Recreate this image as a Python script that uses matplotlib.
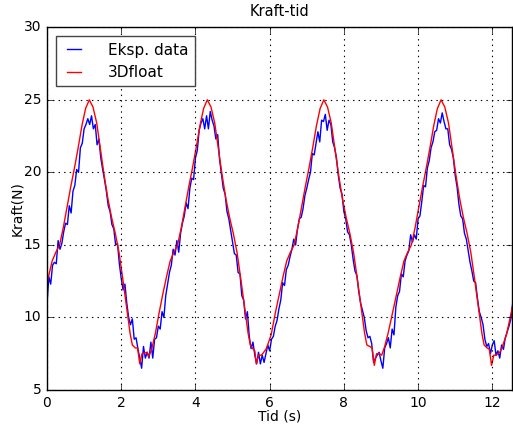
import numpy as np
import matplotlib
matplotlib.use("Agg")
import matplotlib.pyplot as plt

plt.style.use('classic')
plt.rcParams['font.family'] = ['DejaVu Sans']

title = "Kraft-tid"
xlabel = "Tid (s)"
ylabel = "Kraft(N)"
legend_labels = ["Eksp. data", "3Dfloat"]

# Experimental data, sampled every 0.05 s from t = 0
blue_step = 0.05
blue_v = [
    10.9, 12.8, 12.3, 13.6, 13.8, 13.7, 15.3, 14.7, 15.1, 15.9, 16.5, 16.4, 17.7, 17.2, 18.7, 19.1, 20.2, 20.0, 21.7, 22.0,
    23.0, 23.3, 23.7, 23.3, 23.9, 23.0, 23.3, 21.9, 22.3, 21.0, 20.2, 19.5, 18.7, 17.7, 17.3, 16.4, 16.1, 15.0, 15.1, 13.7,
    12.7, 11.9, 12.3, 11.0, 10.0, 9.5, 9.9, 8.5, 8.6, 7.85, 7.2, 6.5, 8.0, 7.2, 7.6, 7.2, 8.3, 7.2, 8.5, 8.6,
    9.4, 9.2, 10.4, 10.0, 11.5, 12.3, 13.1, 13.6, 14.7, 14.3, 15.3, 14.5, 15.8, 16.5, 17.0, 17.9, 17.5, 18.9, 19.6, 19.5,
    21.0, 21.5, 22.9, 23.4, 23.7, 23.0, 23.9, 23.0, 24.2, 23.6, 23.2, 22.3, 22.6, 20.9, 19.9, 18.9, 18.5, 17.3, 16.8, 16.0,
    15.2, 14.4, 14.3, 13.1, 13.0, 11.5, 11.2, 9.9, 10.4, 8.7, 7.85, 8.3, 7.4, 6.8, 7.6, 6.8, 7.4, 6.9, 7.5, 8.1,
    7.7, 8.5, 8.7, 9.4, 9.8, 10.6, 11.2, 12.4, 12.2, 13.3, 13.6, 14.2, 14.7, 15.4, 15.0, 16.1, 16.8, 16.9, 17.5, 18.4,
    18.9, 19.5, 20.0, 21.3, 21.2, 22.0, 22.8, 22.1, 23.6, 23.5, 24.0, 22.9, 23.6, 23.3, 22.1, 21.7, 21.0, 19.8, 18.9, 18.5,
    17.3, 16.8, 15.9, 15.7, 15.0, 14.0, 13.2, 12.9, 11.8, 11.0, 10.5, 10.0, 9.1, 8.6, 8.7, 8.2, 6.9, 7.2, 7.4, 7.6,
    7.0, 6.5, 7.9, 8.2, 8.6, 7.9, 9.2, 8.8, 10.7, 11.5, 11.8, 13.0, 12.8, 13.9, 14.3, 14.6, 15.7, 15.2, 15.7, 15.4,
    16.8, 17.0, 18.0, 19.1, 19.0, 20.3, 20.8, 21.7, 22.1, 22.8, 22.9, 23.7, 23.4, 24.1, 23.5, 23.0, 23.0, 21.9, 21.6, 21.0,
    19.8, 19.0, 17.8, 17.0, 16.8, 15.8, 15.4, 14.6, 13.8, 13.2, 12.5, 12.4, 11.3, 10.4, 10.0, 9.5, 8.5, 8.0, 8.2, 7.5,
    8.1, 8.4, 7.4, 7.7, 7.2, 8.1, 7.8, 8.6, 9.0, 9.4, 9.9, 11.0,
]

# 3Dfloat model curve (time, force)
red_t = [
    0.00, 0.04, 0.14, 0.24, 0.34, 0.44, 0.54, 0.64, 0.74, 0.84, 0.94, 1.04, 1.14, 1.24, 1.34, 1.44, 1.54, 1.64, 1.74, 1.84,
    1.94, 2.04, 2.14, 2.24, 2.30,
    2.38, 2.44, 2.50, 2.56, 2.70, 2.74, 2.82, 2.92,
    3.02, 3.12, 3.22, 3.32, 3.42, 3.52, 3.62, 3.72, 3.82, 3.92, 4.02, 4.12, 4.22, 4.32, 4.42, 4.52, 4.62, 4.72, 4.82, 4.92,
    5.02, 5.12, 5.22, 5.32, 5.42, 5.48,
    5.56, 5.60, 5.64, 5.70, 5.78, 5.84, 5.91, 6.04,
    6.16, 6.26, 6.36, 6.46, 6.56, 6.66, 6.76, 6.86, 6.96, 7.06, 7.16, 7.26, 7.36, 7.46, 7.56, 7.66, 7.76, 7.86, 7.96, 8.06,
    8.16, 8.26, 8.36, 8.46, 8.56, 8.62,
    8.70, 8.76, 8.82, 8.88, 8.96, 9.02, 9.10, 9.20,
    9.32, 9.42, 9.52, 9.62, 9.72, 9.82, 9.92, 10.02, 10.12, 10.22, 10.32, 10.42, 10.52, 10.62, 10.72, 10.82, 10.92, 11.02,
    11.12, 11.22, 11.32, 11.42, 11.52, 11.62, 11.72, 11.78,
    11.86, 11.92, 11.98, 12.04, 12.10, 12.20, 12.25, 12.38, 12.55,
]
red_v = [
    12.3, 12.8, 13.9, 14.5, 15.0, 16.2, 17.6, 19.0, 20.3, 21.7, 23.2, 24.4, 25.0, 24.5, 23.4, 21.6, 19.8, 18.2, 16.9, 15.8,
    14.5, 12.7, 10.8, 8.9, 8.1,
    7.9, 7.9, 6.8, 7.5, 7.6, 7.3, 7.8, 8.9,
    10.3, 11.6, 12.8, 13.9, 14.5, 15.0, 16.2, 17.6, 19.0, 20.3, 21.7, 23.2, 24.4, 25.0, 24.5, 23.4, 21.6, 19.8, 18.2, 16.9,
    15.8, 14.5, 12.7, 10.8, 8.9, 8.1,
    7.8, 7.7, 6.8, 7.4, 7.4, 7.6, 7.85, 8.8,
    10.4, 11.6, 12.8, 13.9, 14.5, 15.0, 16.2, 17.6, 19.0, 20.3, 21.7, 23.2, 24.4, 25.0, 24.5, 23.4, 21.6, 19.8, 18.2, 16.9,
    15.8, 14.5, 12.7, 10.8, 8.9, 8.1,
    8.0, 7.9, 6.7, 7.5, 7.5, 7.4, 8.0, 9.0,
    10.4, 11.6, 12.8, 13.9, 14.5, 15.0, 16.2, 17.6, 19.0, 20.3, 21.7, 23.2, 24.4, 25.0, 24.5, 23.4, 21.6, 19.8,
    18.2, 16.9, 15.8, 14.5, 12.7, 10.8, 8.9, 8.1,
    7.9, 7.8, 6.7, 7.4, 7.4, 7.6, 7.85, 8.8, 10.8,
]

x_ticks = [0, 2, 4, 6, 8, 10, 12]
y_ticks = [5, 10, 15, 20, 25, 30]

blue_t = np.arange(len(blue_v)) * blue_step

fig = plt.figure(figsize=(5.13, 4.29), dpi=100, facecolor='white')
ax = fig.add_axes([0.0916, 0.0909, 0.9064, 0.8455])
ax.plot(blue_t, blue_v, color='b', lw=1.0, label=legend_labels[0])
ax.plot(red_t, red_v, color='r', lw=1.0, label=legend_labels[1])

ax.set_xlim(0, 12.53)
ax.set_ylim(5, 30)
ax.set_xticks(x_ticks)
ax.set_yticks(y_ticks)
ax.tick_params(labelsize=10)
ax.grid(True, color='k', linestyle=':', linewidth=0.8)
ax.set_title(title, fontsize=10.5, pad=8)
ax.set_xlabel(xlabel, fontsize=10, labelpad=0)
ax.set_ylabel(ylabel, fontsize=10, labelpad=0)
leg = ax.legend(loc='upper left', fontsize=11, frameon=True, fancybox=False,
                borderaxespad=0.6, handlelength=1.5, handletextpad=1.5)
leg.get_frame().set_edgecolor('#444444')

fig.savefig("out.png", dpi=100, facecolor='white')
